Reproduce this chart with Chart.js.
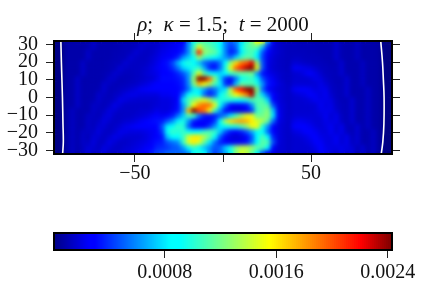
<!DOCTYPE html>
<html><head><meta charset="utf-8">
<style>
html,body{margin:0;padding:0;background:#fff;overflow:hidden}
#wrap{position:relative;width:436px;height:291px}
canvas{position:absolute;left:0}
#t{position:absolute;left:0;width:446px;top:12px;text-align:center;font:21px "Liberation Serif",serif;color:#111;white-space:pre}
</style>
<script src="https://cdn.jsdelivr.net/npm/chart.js@4/dist/chart.umd.min.js"></script>
</head><body><div id="wrap">
<canvas id="c1" style="top:0" width="436" height="200"></canvas>
<canvas id="c2" style="top:200px" width="436" height="91"></canvas>
<div id="t"><i>ρ</i>;  <i>κ</i> = 1.5;  <i>t</i> = 2000</div>
</div>
<script>
const xTickValues=[-50,0,50];
const yTickValues=[30,20,10,0,-10,-20,-30];
const barTickValues=[0.0008,0.0016,0.0024];
// density in units of 1e-5: left, centre, right blocks per row
const rhoLeft=[
[1,2,9,9,9,9,10,15,10,10,10,10,11,11,12,12,13,18,15,15],
[1,2,9,9,9,9,10,15,10,10,10,10,11,12,12,13,18,15,15,17],
[1,2,9,9,9,9,15,10,10,10,10,11,11,12,13,18,15,14,15,18],
[1,2,9,9,9,9,15,10,10,10,10,11,12,12,18,15,14,14,17,20],
[1,2,9,9,9,15,10,10,10,10,11,12,12,18,15,14,14,15,18,22],
[1,2,9,9,9,15,10,10,10,10,11,12,18,15,14,14,15,17,20,24],
[1,2,9,9,9,15,10,10,10,11,12,17,15,13,13,14,15,18,20,22],
[1,2,9,9,15,10,10,10,10,11,16,15,12,12,13,14,15,17,18,22],
[1,2,9,9,15,10,10,10,10,16,14,12,12,13,14,15,18,20,24,28],
[1,2,9,9,15,10,10,10,11,17,12,12,14,15,18,20,24,26,28,30],
[1,2,9,9,15,10,10,10,16,14,12,14,16,20,22,22,20,20,20,20],
[1,2,9,9,15,10,10,11,16,13,13,15,22,20,18,17,17,17,17,18],
[1,2,9,9,15,10,10,15,14,12,15,22,18,15,15,15,15,15,17,18],
[1,2,9,14,10,10,10,15,13,14,20,18,15,15,15,15,17,17,18,22],
[1,2,9,14,10,10,14,14,12,18,20,15,14,15,15,17,18,20,24,28],
[1,2,9,14,10,10,15,13,15,20,17,14,15,17,18,20,24,28,32,34],
[1,2,9,14,10,10,15,13,18,18,14,15,18,22,24,26,28,28,28,30],
[1,2,9,14,10,14,14,15,20,15,14,17,22,22,20,20,20,22,24,26],
[1,2,9,14,10,15,12,18,17,14,17,22,20,17,17,17,18,20,24,30],
[1,2,9,14,10,15,14,20,14,15,22,18,15,15,17,18,20,22,26,34],
[1,2,9,14,10,14,18,17,14,20,18,15,15,17,18,20,22,26,30,38],
[1,2,9,14,10,14,20,15,17,20,15,15,17,18,20,22,26,30,36,44]];
const rhoCentre=[
[18,20,22,24,28,58,95,105,110,105,100,85,58,50,58,78,105,120,155,150,62,24,16,14,13],
[20,22,24,28,34,62,105,150,120,115,105,90,58,42,52,90,110,115,115,72,38,20,16,14,13],
[22,24,26,30,38,60,110,215,130,120,115,95,58,36,44,82,105,110,92,48,28,20,17,14,13],
[24,26,30,38,62,74,92,130,105,98,92,76,62,54,76,105,115,110,82,44,24,18,15,14,13],
[28,34,46,68,92,100,86,72,52,44,40,54,86,130,165,190,200,225,130,48,22,18,15,14,13],
[30,32,40,54,74,82,98,105,66,38,32,54,98,150,195,215,235,255,150,48,22,17,15,14,13],
[30,30,32,38,48,64,110,150,112,92,82,76,86,105,110,115,115,120,62,34,24,20,17,15,14],
[32,32,32,34,40,62,130,255,240,195,125,76,40,28,54,92,100,105,82,48,34,24,18,15,14],
[30,30,30,32,38,60,120,175,155,135,110,82,40,34,72,115,110,110,98,62,36,26,20,17,14],
[28,28,29,30,36,54,82,82,64,46,54,72,80,140,200,220,240,255,125,52,30,22,18,17,15],
[24,24,26,30,54,92,98,86,52,36,48,86,105,130,155,170,190,235,112,76,50,28,20,17,15],
[20,20,22,30,78,110,125,140,148,132,110,98,98,98,92,92,98,110,110,110,76,30,20,17,15],
[20,20,22,32,64,110,155,185,195,190,150,92,54,30,24,26,34,60,110,115,110,48,22,18,15],
[20,20,24,34,62,175,255,205,190,155,105,62,32,24,20,20,26,42,105,115,125,74,24,18,15],
[24,28,36,54,74,110,105,54,36,34,36,48,60,80,110,130,150,150,118,120,128,80,26,18,15],
[36,48,62,82,98,62,36,28,26,30,42,92,135,165,175,180,175,160,145,135,115,54,22,18,15],
[48,82,92,105,100,52,30,28,30,42,62,82,92,98,98,110,125,150,150,98,62,28,20,17,15],
[42,92,105,100,105,92,86,92,105,110,105,74,48,34,30,36,48,66,92,92,54,28,20,17,15],
[34,72,86,86,105,145,160,160,135,115,92,48,28,20,18,20,28,48,86,110,92,38,20,17,15],
[36,48,54,60,105,145,160,145,115,80,54,38,28,24,24,26,34,54,92,115,110,48,20,17,15],
[40,42,48,50,64,92,105,92,72,60,48,52,74,98,125,138,138,130,115,110,92,30,18,17,15],
[46,52,52,52,52,60,86,98,86,60,44,52,66,92,125,145,138,115,86,48,30,22,18,17,15]];
const rhoRight=[
[13,12,12,12,11,11,11,11,17,11,10,10,14,9,9,9,8,2,1],
[13,12,12,12,12,11,11,11,17,11,10,10,14,9,9,9,8,2,1],
[13,13,13,12,12,11,11,11,17,11,10,10,14,9,9,9,8,2,1],
[14,14,13,13,13,12,11,11,17,11,10,10,14,9,9,9,8,2,1],
[18,17,15,14,13,13,12,11,12,17,10,10,10,14,9,9,8,2,1],
[24,24,22,20,17,14,13,12,12,17,10,10,10,14,9,9,8,2,1],
[17,18,22,26,22,17,13,13,12,17,11,10,10,14,9,9,8,2,1],
[17,17,17,18,22,20,15,13,12,12,17,10,10,14,9,9,8,2,1],
[18,18,18,18,18,22,18,14,12,12,17,10,10,14,9,9,8,2,1],
[24,26,26,24,20,22,22,15,13,12,17,10,10,10,14,9,8,2,1],
[18,20,22,26,24,20,24,17,13,12,17,10,10,10,14,9,8,2,1],
[17,17,18,20,24,22,22,20,14,12,12,17,10,10,14,9,8,2,1],
[17,17,17,17,18,24,20,22,15,13,12,17,10,10,14,9,8,2,1],
[17,17,17,17,18,22,22,22,17,13,12,17,10,10,14,9,8,2,1],
[18,18,18,18,18,19,24,18,22,14,12,17,10,10,14,9,8,2,1],
[22,24,22,20,18,18,22,20,22,15,12,17,10,10,14,9,8,2,1],
[26,28,28,24,20,18,20,24,18,22,13,12,17,10,14,9,8,2,1],
[20,22,26,28,24,20,19,24,18,22,14,12,17,10,10,14,8,2,1],
[17,18,20,24,28,22,20,20,24,18,22,13,17,10,10,14,8,2,1],
[17,17,18,20,26,26,20,20,24,18,22,14,17,10,10,14,8,2,1],
[17,17,17,18,22,28,22,20,20,22,20,18,12,17,10,14,8,2,1],
[17,17,17,17,18,26,24,20,18,22,18,20,12,17,10,14,8,2,1]];
const leftRingX=[-92.1,-91.8,-91.5,-91.2,-90.9,-90.7,-91.1];
const rightRingX=[89.6,90.6,91.1,91.5,91.4,90.8,89.9];
const ringY=[32,20,10,0,-15,-25,-32];

const RHO_MAX=243;
const jetStops=[[0,0,0,128],[.11,0,0,255],[.125,0,0,255],[.35,0,255,255],[.375,0,255,255],[.64,255,255,0],[.91,255,0,0],[1,128,0,0]];
function jet(f){f=Math.max(0,Math.min(1,f));
 for(let i=1;i<jetStops.length;i++){const a=jetStops[i-1],b=jetStops[i];
  if(f<=b[0]){const t=(f-a[0])/(b[0]-a[0]);
   return `rgb(${a[1]+t*(b[1]-a[1])|0},${a[2]+t*(b[2]-a[2])|0},${a[3]+t*(b[3]-a[3])|0})`;}}
 return 'rgb(128,0,0)';}
const heat=[],heatColors=[];
rhoCentre.forEach((row,r)=>{
 const full=rhoLeft[r].concat(row,rhoRight[r]);
 full.forEach((v,i)=>{heat.push({x:-94.5+3*i,y:31.5-3*r});heatColors.push(jet(v/RHO_MAX));});
});
const serif='"Liberation Serif",serif';
const txt={family:serif,size:20};
const ring=xs=>xs.map((x,i)=>({x,y:ringY[i]}));
const lineSet=xs=>({type:'scatter',data:ring(xs),showLine:true,tension:.4,borderColor:'#fff',borderWidth:1.6,pointRadius:0,clip:true});
const smooth={id:'smooth',afterDatasetDraw(ch,args){
 if(args.index!==2)return;
 const a=ch.chartArea,w=a.right-a.left,h=a.bottom-a.top,t=document.createElement('canvas');
 t.width=w;t.height=h;t.getContext('2d').drawImage(ch.canvas,a.left,a.top,w,h,0,0,w,h);
 const c=ch.ctx;c.save();c.beginPath();c.rect(a.left,a.top,w,h);c.clip();
 c.filter='blur(2.1px)';c.drawImage(t,a.left,a.top);c.restore();}};
const fit=(prop,val)=>s=>{s[prop]=val;};
const axisBase={border:{color:'#000',width:2,z:2},grid:{drawOnChartArea:false,color:'#222',tickLength:8,tickWidth:1}};
const setTicks=vals=>s=>{s.ticks=vals.map(v=>({value:v}));};
new Chart(document.getElementById('c1'),{type:'scatter',
 data:{datasets:[lineSet(leftRingX),lineSet(rightRingX),
  {data:heat,pointStyle:'rect',pointRadius:4,pointHoverRadius:4,borderWidth:0,backgroundColor:heatColors}]},
 plugins:[smooth],
 options:{responsive:false,animation:false,events:[],layout:{padding:0},
  plugins:{legend:{display:false},tooltip:{enabled:false},title:{display:false}},
  scales:{
   x:{...axisBase,type:'linear',position:'bottom',min:-96,max:96,afterBuildTicks:setTicks(xTickValues),afterFit:fit('height',46),
    ticks:{font:txt,color:'#111',padding:0,maxRotation:0,autoSkip:false,callback:v=>v===0?'':(v<0?'−'+(-v):''+v)}},
   x2:{...axisBase,type:'linear',position:'top',min:-96,max:96,afterBuildTicks:setTicks(xTickValues),afterFit:fit('height',41),
    ticks:{display:false}},
   y:{...axisBase,type:'linear',position:'left',min:-32,max:32,afterBuildTicks:setTicks(yTickValues),afterFit:fit('width',54),
    ticks:{font:txt,color:'#111',padding:8,autoSkip:false,callback:v=>v<0?'−'+(-v):''+v}},
   y2:{...axisBase,type:'linear',position:'right',min:-32,max:32,afterBuildTicks:setTicks(yTickValues),afterFit:fit('width',44),
    ticks:{display:false}}
  }}});
const levels=[];for(let i=0;i<170;i++)levels.push(i/169*0.00243);
const frame={id:'frame',afterDraw(ch){const a=ch.chartArea,c=ch.ctx;c.save();c.strokeStyle='#000';c.lineWidth=2;
 c.strokeRect(a.left,a.top,a.right-a.left,a.bottom-a.top);c.restore();}};
new Chart(document.getElementById('c2'),{type:'bar',
 data:{datasets:[{data:levels.map(v=>({x:v,y:1})),backgroundColor:levels.map(v=>jet(v/0.00243)),barThickness:3,grouped:false,borderWidth:0}]},
 plugins:[frame],
 options:{responsive:false,animation:false,events:[],layout:{padding:{left:54,right:44,top:33,bottom:0}},
  plugins:{legend:{display:false},tooltip:{enabled:false}},
  scales:{
   x:{type:'linear',offset:false,min:0.000006,max:0.00243,afterBuildTicks:setTicks(barTickValues),afterFit:fit('height',41),
    border:{display:false},grid:{drawOnChartArea:false,color:'#222',tickLength:8,tickWidth:1,offset:false},
    ticks:{font:txt,color:'#111',padding:3,maxRotation:0,autoSkip:false,callback:v=>v.toFixed(4)}},
   y:{display:false,min:0,max:1}
  }}});
</script></body></html>
